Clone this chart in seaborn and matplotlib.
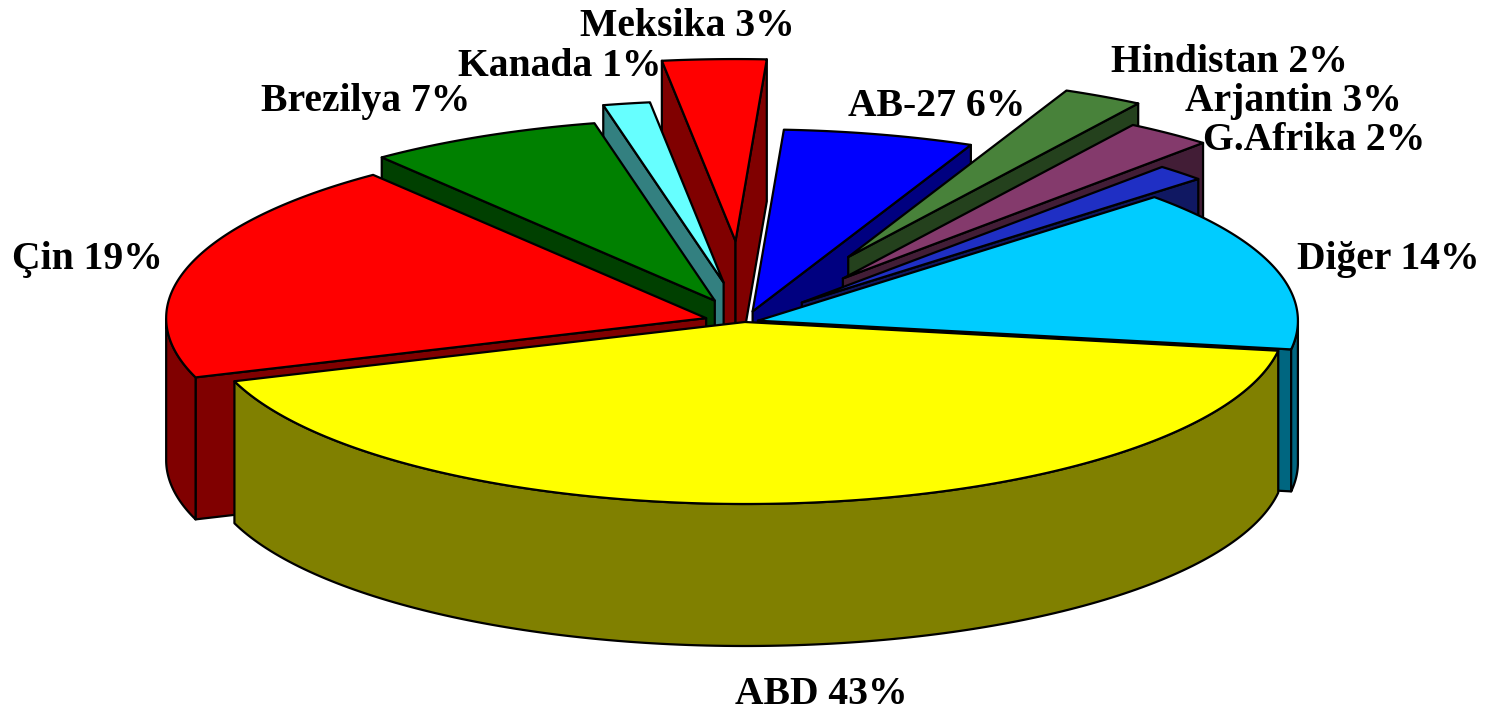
import numpy as np
import seaborn as sns
import matplotlib.pyplot as plt

# measured wedge sizes, the printed labels are rounded separately
countries = ['Çin', 'Brezilya', 'Kanada', 'Meksika', 'AB-27', 'Hindistan', 'Arjantin', 'G.Afrika', 'Diğer', 'ABD']
shares = [19.7, 7, 1.4, 3.1, 5.7, 2.4, 2.6, 1.5, 14.4, 42.2]
printed = [19, 7, 1, 3, 6, 2, 3, 2, 14, 43]
topColors = ['#ff0000', '#008000', '#66ffff', '#ff0000', '#0000ff', '#48823a', '#843a6c', '#1f2fc4', '#00ccff', '#ffff00']
explode = [0.075, 0.13, 0.22, 0.445, 0.06, 0.405, 0.3, 0.15, 0.025, 0.0]
labelX = [12, 261, 458, 580, 848, 1111, 1185, 1203, 1297, 735]
labelY = [260, 102, 66, 26, 107, 63, 102, 140, 260, 695]

# pie geometry in pixels
cx, cy = 745, 322
rx, ry = 540, 182
depth = 142
startAngle = 199

sns.set_theme(style='white')
plt.rcParams['font.family'] = ['Liberation Serif']

fig, ax = plt.subplots(figsize=(14.93, 7.12), dpi=100)
fig.subplots_adjust(0, 0, 1, 1)
ax.set_xlim(0, 1493)
ax.set_ylim(712, 0)
ax.axis('off')

# the side walls are the top colour at half brightness
sideColors = [tuple(v * 0.5 for v in c) for c in sns.color_palette(topColors)]


def rimPoints(ox, oy, angles):
    rad = np.radians(angles)
    return ox + rx * np.cos(rad), oy - ry * np.sin(rad)


def drawSlice(ox, oy, a1, a2, top, side, zorder):
    edge = dict(edgecolor='black', linewidth=1.6, joinstyle='round', zorder=zorder)

    # cut faces, only those turned towards the viewer
    for a, visible in ((a1, np.cos(np.radians(a1)) < 0), (a2, np.cos(np.radians(a2)) > 0)):
        if visible:
            ex, ey = rimPoints(ox, oy, a)
            ax.fill([ox, ex, ex, ox], [oy, ey, ey + depth, oy + depth], facecolor=side, **edge)

    # outer wall, front half of the rim only
    angles = np.linspace(a1, a2, 160)
    front = angles[np.sin(np.radians(angles)) <= 0]
    if len(front) > 1:
        wx, wy = rimPoints(ox, oy, front)
        ax.fill(np.r_[wx, wx[::-1]], np.r_[wy, wy[::-1] + depth], facecolor=side, **edge)

    wx, wy = rimPoints(ox, oy, angles)
    ax.fill(np.r_[ox, wx], np.r_[oy, wy], facecolor=top, **edge)


total = sum(shares)
ends = startAngle - np.cumsum(shares) / total * 360
starts = np.r_[startAngle, ends[:-1]]
mids = (starts + ends) / 2
offsetX = cx + np.array(explode) * rx * np.cos(np.radians(mids))
offsetY = cy - np.array(explode) * ry * np.sin(np.radians(mids))

# back to front, by where the middle of the slice points
order = np.argsort(-np.sin(np.radians(mids)))
for z, i in enumerate(order):
    drawSlice(offsetX[i], offsetY[i], starts[i], ends[i], topColors[i], sideColors[i], z + 1)

for name, share, x, y in zip(countries, printed, labelX, labelY):
    ax.text(x, y, '{0} {1}%'.format(name, share), fontsize=28.5, fontweight='bold',
            color='black', ha='left', va='center', zorder=50)

plt.savefig('out.png', dpi=100)
